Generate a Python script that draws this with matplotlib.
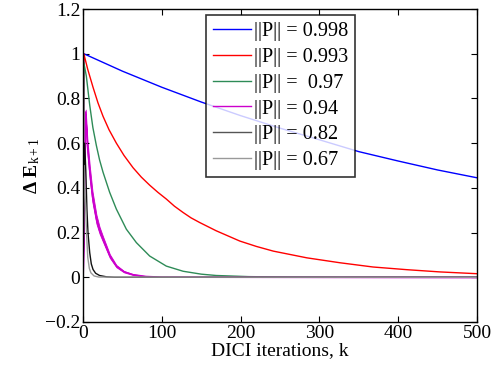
import matplotlib
matplotlib.use("Agg")
import matplotlib.pyplot as plt

plt.rcParams['font.family'] = ['Liberation Serif', 'DejaVu Serif']
plt.rcParams['mathtext.fontset'] = 'custom'
plt.rcParams['mathtext.rm'] = 'Liberation Serif'
plt.rcParams['mathtext.bf'] = 'Liberation Serif:bold'
plt.rcParams['mathtext.it'] = 'Liberation Serif:italic'

# ---- data ----
k_blue = [0, 1, 50, 100, 150, 200, 250, 300, 350, 400, 450, 500]
v_blue = [0, 1.0, 0.922, 0.85, 0.784, 0.723, 0.667, 0.615, 0.562, 0.52, 0.48, 0.445]

k_red = [0, 1, 6, 12.7, 19, 25.4, 33, 42.3, 52, 63.5, 74, 84.6, 95, 105.7, 116, 126.9, 137, 148,
         169, 199, 220, 241.5, 284, 326, 368, 411, 453, 500]
v_red = [0, 1.0, 0.93, 0.85, 0.78, 0.72, 0.66, 0.60, 0.545, 0.49, 0.448, 0.412, 0.38, 0.35,
         0.318, 0.29, 0.266, 0.245, 0.208, 0.162, 0.138, 0.117, 0.087, 0.065, 0.046, 0.034,
         0.024, 0.016]

k_green = [0, 1, 4.2, 8.5, 12.5, 16.9, 21, 25.4, 33.8, 42.3, 55, 67.7, 84.6, 105.7, 127, 150,
           169, 210, 260, 320, 400, 500]
v_green = [0, 0.96, 0.90, 0.77, 0.67, 0.59, 0.525, 0.47, 0.38, 0.305, 0.215, 0.155, 0.095, 0.05,
           0.027, 0.014, 0.008, 0.003, 0.001, 0, 0, 0]

k_mag = [0, 3.4, 5.5, 8.5, 12, 17, 21, 25.4, 30, 34, 42.3, 52, 63.5, 80, 100, 500]
v_mag = [0, 0.74, 0.59, 0.47, 0.36, 0.26, 0.21, 0.17, 0.13, 0.095, 0.05, 0.025, 0.012, 0.004,
         0.001, 0]
v_mag_hi = [0, 0.75, 0.62, 0.50, 0.385, 0.28, 0.225, 0.182, 0.14, 0.103, 0.055, 0.028, 0.014,
            0.005, 0.001, 0]
v_mag_lo = [0, 0.73, 0.56, 0.44, 0.335, 0.24, 0.195, 0.158, 0.12, 0.087, 0.045, 0.022, 0.010,
            0.003, 0.001, 0]

k_black = [0, 2, 3.5, 5, 6.3, 8.5, 10.5, 12.7, 16, 21, 30, 40, 500]
v_black = [0, 0.60, 0.48, 0.30, 0.20, 0.11, 0.06, 0.035, 0.018, 0.008, 0.002, 0, 0]

k_gray = [0, 1.5, 3, 4.5, 6, 8, 10, 14, 20, 500]
v_gray = [0, 0.50, 0.35, 0.20, 0.09, 0.04, 0.02, 0.006, 0.001, 0]

labels = ['||P|| = 0.998', '||P|| = 0.993', '||P|| =  0.97', '||P|| = 0.94',
          '||P|| = 0.82', '||P|| = 0.67']
colors = ['#0000ff', '#ff0000', '#2e8b57', '#cc00cc', '#111111', '#999999']

xticks = [0, 100, 200, 300, 400, 500]
yticks = [-0.2, 0, 0.2, 0.4, 0.6, 0.8, 1, 1.2]
yticklabels = ['\u22120.2', '0', '0.2', '0.4', '0.6', '0.8', '1', '1.2']

# ---- figure ----
fig = plt.figure(figsize=(4.98, 3.68), dpi=100)
ax = fig.add_axes([0.1667, 0.125, 0.7913, 0.8505])

lw = 1.0
ax.plot(k_blue, v_blue, color=colors[0], lw=lw, label=labels[0])
ax.plot(k_red, v_red, color=colors[1], lw=lw, label=labels[1])
ax.plot(k_green, v_green, color=colors[2], lw=lw, label=labels[2])
ax.fill_between(k_mag, v_mag_lo, v_mag_hi, color=colors[3], lw=0.6)
ax.plot(k_mag, v_mag, color=colors[3], lw=lw, label=labels[3])
ax.plot(k_black, v_black, color=colors[4], lw=lw, label=labels[4])
ax.plot(k_gray, v_gray, color=colors[5], lw=lw, label=labels[5])

ax.set_xlim(0, 500)
ax.set_ylim(-0.2, 1.2)
ax.set_xticks(xticks)
ax.set_xticklabels([str(t) for t in xticks])
ax.set_yticks(yticks)
ax.set_yticklabels(yticklabels)
ax.tick_params(direction='in', length=4, width=0.8, top=True, right=True,
               labelsize=14, pad=2)
for s in ax.spines.values():
    s.set_linewidth(1.0)

ax.set_xlabel('DICI iterations, k', fontsize=14, labelpad=0)
ax.set_ylabel(r'$\mathbf{\Delta\ E}_{\mathrm{k+1}}$', fontsize=14, labelpad=2)

leg = ax.legend(loc='upper left', bbox_to_anchor=(0.312, 0.981), fontsize=14.6,
                frameon=True, fancybox=False, shadow=False, handlelength=1.9,
                handletextpad=0.15, labelspacing=0.33, borderpad=0.33,
                borderaxespad=0)
leg.get_frame().set_edgecolor('black')
leg.get_frame().set_linewidth(1.2)
leg.get_lines()[4].set_color('#555555')

fig.savefig('out.png', dpi=100)
